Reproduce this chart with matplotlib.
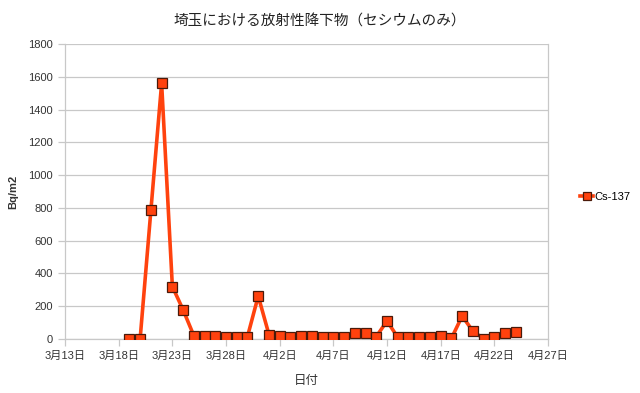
import numpy as np
import pandas as pd
import matplotlib
matplotlib.use("Agg")
import matplotlib.pyplot as plt

plt.rcParams['font.family'] = ['Liberation Sans', 'Noto Sans CJK JP', 'DejaVu Sans']

# 日付 (2011年3月19日〜4月24日) と Cs-137 の降下量
dates = pd.date_range('2011-03-19', '2011-04-24', freq='D')
cs137 = [2, 3, 785, 1560, 320, 178, 20, 20, 20, 15, 15, 15, 262,
         27, 20, 14, 18, 18, 12, 14, 14, 34, 38, 15, 110, 10, 14,
         10, 14, 16, 4, 140, 48, 2, 14, 36, 42]

tick_dates = pd.date_range('2011-03-13', '2011-04-27', freq='5D')
y_ticks = list(range(0, 1801, 200))

title = '埼玉における放射性降下物（セシウムのみ）'
grid_col = '#c8c8c8'
line_col = '#ff420e'

fig = plt.figure(figsize=(6.4, 3.93), dpi=100)
ax = fig.add_axes([0.1016, 0.1374, 0.7547, 0.7506])

ax.plot(dates, cs137, color=line_col, lw=2.6, marker='s', ms=7.0,
        mfc=line_col, mec='#4a1a0a', mew=0.9, label='Cs-137', zorder=3)

ax.set_xlim(tick_dates[0], tick_dates[-1])
ax.set_ylim(0, 1800)
ax.set_xticks(tick_dates)
ax.set_xticklabels([f'{d.month}月{d.day}日' for d in tick_dates])
ax.set_yticks(y_ticks)

ax.yaxis.grid(True, color=grid_col, lw=0.9)
ax.set_axisbelow(True)
for s in ax.spines.values():
    s.set_color(grid_col)
    s.set_linewidth(0.9)
ax.spines['top'].set_visible(False)

ax.tick_params(axis='both', labelsize=8, colors='#333333', length=5,
               width=0.9, direction='out')
ax.tick_params(axis='both', color=grid_col)

ax.set_xlabel('日付', fontsize=9, color='#333333', labelpad=10)
ax.set_ylabel('Bq/m2', fontsize=8, fontweight='bold', color='#333333', labelpad=7)
ax.set_title(title, fontsize=10.5, color='#222222', pad=13, x=0.5 * 640 / 483 - 65 / 483)

fig.legend(loc='center left', bbox_to_anchor=(0.9, 0.5), frameon=False,
           fontsize=8, handlelength=1.1, handletextpad=0.15, markerscale=0.8,
           borderaxespad=0)

fig.savefig('out.png', dpi=100)
